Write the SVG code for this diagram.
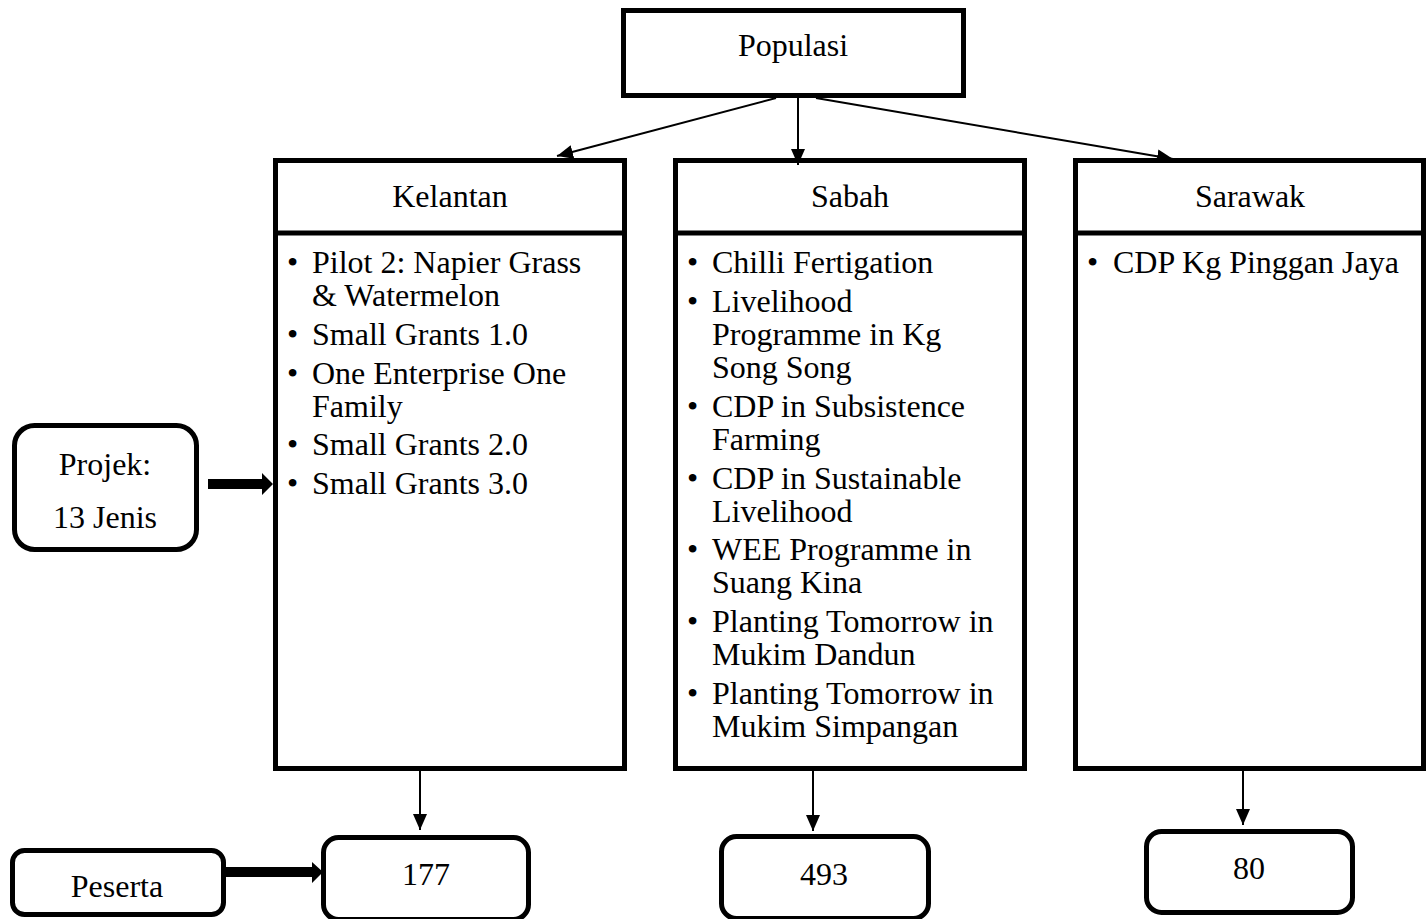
<svg xmlns="http://www.w3.org/2000/svg" width="1426" height="919" viewBox="0 0 1426 919">
<defs>
<marker id="ah" markerWidth="16" markerHeight="14" refX="16" refY="7" orient="auto" markerUnits="userSpaceOnUse">
<path d="M0,0 L16,7 L0,14 Z" fill="#000"/>
</marker>
<style>
.box{fill:#fff;stroke:#000;stroke-width:5}
.t{font-family:"Liberation Serif","Times New Roman",serif;font-size:32px;fill:#000}
.c{text-anchor:middle}
.con{stroke:#000;stroke-width:2;fill:none;marker-end:url(#ah)}
</style>
</defs>
<rect width="1426" height="919" fill="#fff"/>
<g id="populasi">
<rect class="box" x="623.5" y="10.5" width="340" height="85"/>
<text class="t c" x="793" y="56">Populasi</text>
</g>
<g id="kelantan">
<rect class="box" x="275.5" y="160.5" width="349" height="608"/>
<line x1="275.5" y1="233" x2="624.5" y2="233" stroke="#000" stroke-width="5"/>
<text class="t c" x="450" y="207">Kelantan</text>
<g class="t">
<text x="287" y="273">•</text><text x="312" y="273">Pilot 2: Napier Grass</text>
<text x="312" y="306">&amp; Watermelon</text>
<text x="287" y="345">•</text><text x="312" y="345">Small Grants 1.0</text>
<text x="287" y="384">•</text><text x="312" y="384">One Enterprise One</text>
<text x="312" y="417">Family</text>
<text x="287" y="455">•</text><text x="312" y="455">Small Grants 2.0</text>
<text x="287" y="494">•</text><text x="312" y="494">Small Grants 3.0</text>
</g>
</g>
<g id="sabah">
<rect class="box" x="675.5" y="160.5" width="349" height="608"/>
<line x1="675.5" y1="233" x2="1024.5" y2="233" stroke="#000" stroke-width="5"/>
<text class="t c" x="850" y="207">Sabah</text>
<g class="t">
<text x="687" y="273">•</text><text x="712" y="273">Chilli Fertigation</text>
<text x="687" y="312">•</text><text x="712" y="312">Livelihood</text>
<text x="712" y="345">Programme in Kg</text>
<text x="712" y="378">Song Song</text>
<text x="687" y="417">•</text><text x="712" y="417">CDP in Subsistence</text>
<text x="712" y="450">Farming</text>
<text x="687" y="489">•</text><text x="712" y="489">CDP in Sustainable</text>
<text x="712" y="522">Livelihood</text>
<text x="687" y="560">•</text><text x="712" y="560">WEE Programme in</text>
<text x="712" y="593">Suang Kina</text>
<text x="687" y="632">•</text><text x="712" y="632">Planting Tomorrow in</text>
<text x="712" y="665">Mukim Dandun</text>
<text x="687" y="704">•</text><text x="712" y="704">Planting Tomorrow in</text>
<text x="712" y="737">Mukim Simpangan</text>
</g>
</g>
<g id="sarawak">
<rect class="box" x="1075.5" y="160.5" width="348" height="608"/>
<line x1="1075.5" y1="233" x2="1423.5" y2="233" stroke="#000" stroke-width="5"/>
<text class="t c" x="1250" y="207">Sarawak</text>
<g class="t">
<text x="1087" y="273">•</text><text x="1113" y="273">CDP Kg Pinggan Jaya</text>
</g>
</g>
<g id="projek">
<rect class="box" x="14.5" y="425.5" width="182" height="124" rx="20"/>
<text class="t c" x="105" y="475">Projek:</text>
<text class="t c" x="105" y="528">13 Jenis</text>
</g>
<g id="peserta">
<rect class="box" x="12.5" y="850.5" width="211" height="64" rx="12"/>
<text class="t c" x="117" y="897">Peserta</text>
</g>
<g id="n177">
<rect class="box" x="323.5" y="837.5" width="205" height="82" rx="15"/>
<text class="t c" x="426" y="885">177</text>
</g>
<g id="n493">
<rect class="box" x="721.5" y="836.5" width="207" height="82" rx="15"/>
<text class="t c" x="824" y="885">493</text>
</g>
<g id="n80">
<rect class="box" x="1146.5" y="831.5" width="206" height="81" rx="15"/>
<text class="t c" x="1249" y="879">80</text>
</g>
<g id="connectors">
<line class="con" x1="776" y1="98" x2="557" y2="156"/>
<line class="con" x1="798" y1="98" x2="798" y2="165"/>
<line class="con" x1="816" y1="98" x2="1173" y2="159"/>
<line class="con" x1="420" y1="771" x2="420" y2="830"/>
<line class="con" x1="813" y1="771" x2="813" y2="831"/>
<line class="con" x1="1243" y1="766" x2="1243" y2="825"/>
<polygon points="208,479 262,479 262,473 273,484 262,495 262,489 208,489" fill="#000"/>
<polygon points="226,867 312,867 312,862 323,872 312,883 312,877 226,877" fill="#000"/>
</g>
</svg>
